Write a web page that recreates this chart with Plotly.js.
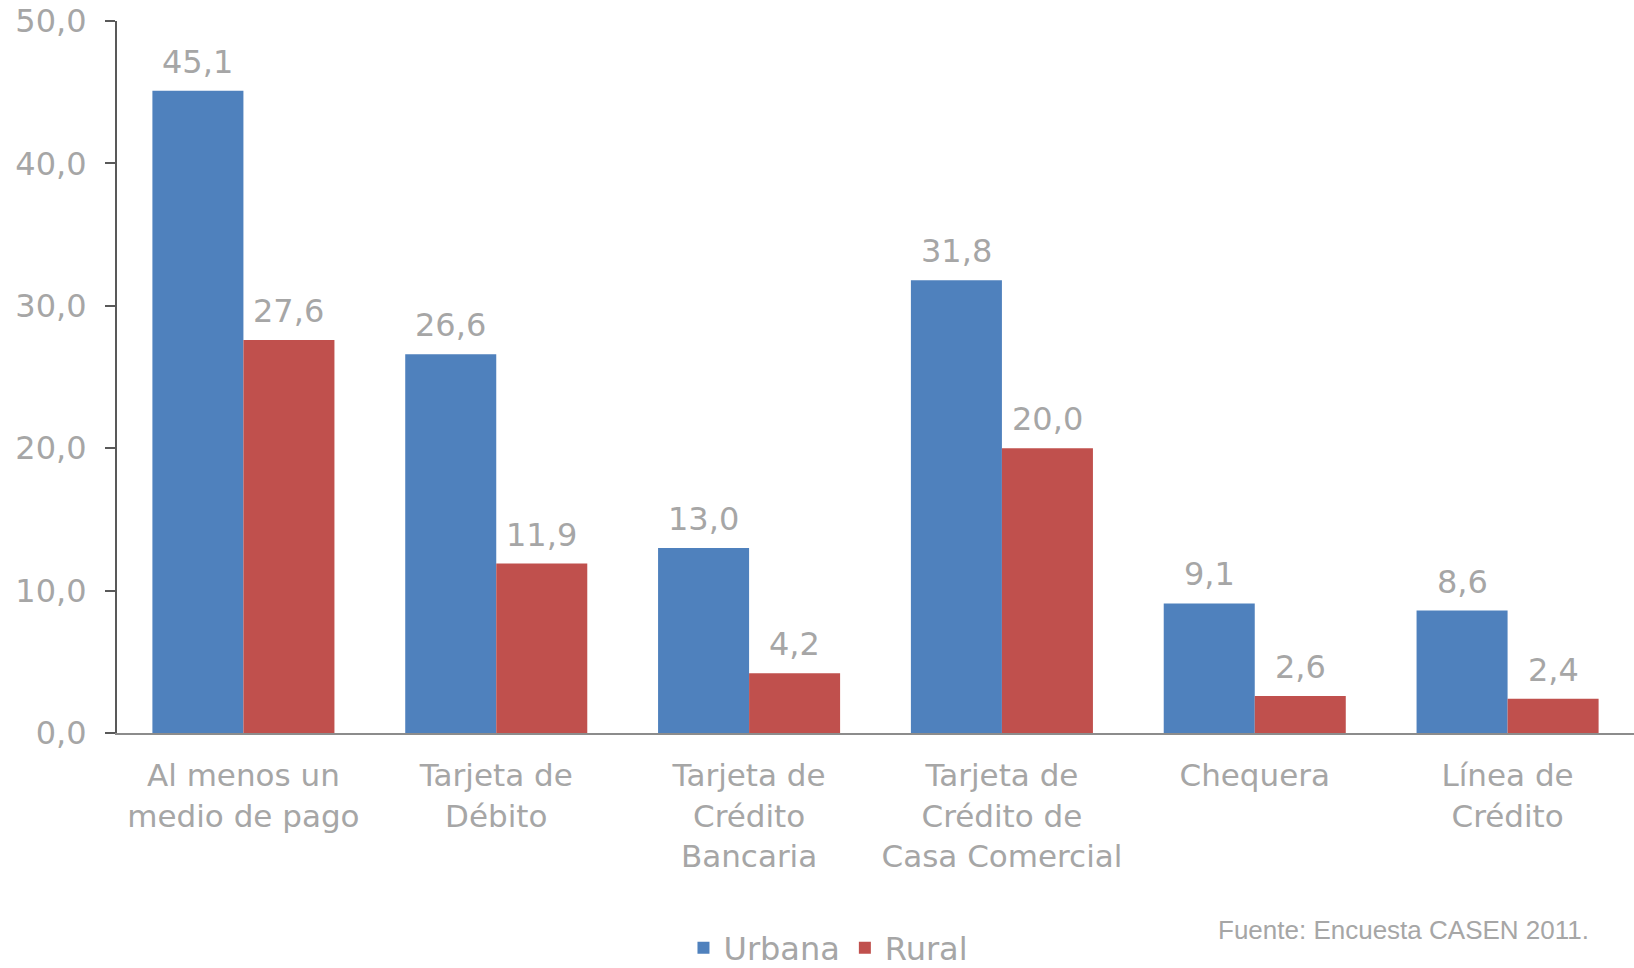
<!DOCTYPE html>
<html><head><meta charset="utf-8">
<script src="https://cdn.plot.ly/plotly-3.0.1.min.js"></script>
<style>html,body{margin:0;padding:0;background:#fff;}#chart{width:1634px;height:968px;}</style>
</head><body><div id="chart"></div>
<script>
const categories = ["Al menos un<br>medio de pago", "Tarjeta de<br>Débito", "Tarjeta de<br>Crédito<br>Bancaria", "Tarjeta de<br>Crédito de<br>Casa Comercial", "Chequera", "Línea de<br>Crédito"];
const urbana = [45.1, 26.6, 13.0, 31.8, 9.1, 8.6];
const rural = [27.6, 11.9, 4.2, 20.0, 2.6, 2.4];
const seriesNames = ["Urbana", "Rural"];
const sourceNote = "Fuente: Encuesta CASEN 2011.";

const labelFont = {family: "Verdana, 'DejaVu Sans', sans-serif", size: 32, color: "#A6A6A6"};
const traces = [
  {type: "bar", name: seriesNames[0], x: categories, y: urbana, marker: {color: "#4F81BD"}},
  {type: "bar", name: seriesNames[1], x: categories, y: rural, marker: {color: "#C0504D"}}
];
const fmt = v => v.toFixed(1).replace(".", ",");
const valueLabels = [];
[urbana, rural].forEach((vals, s) => {
  vals.forEach((v, i) => {
    valueLabels.push({xref: "x", yref: "y", x: i + (s === 0 ? -0.18 : 0.18), y: v, yanchor: "bottom", yshift: 8,
      showarrow: false, text: fmt(v), font: labelFont});
  });
});
const layout = {
  width: 1634, height: 968,
  margin: {l: 117, r: 0, t: 21, b: 235, autoexpand: false},
  separators: ",.",
  barmode: "group", bargap: 0.28, bargroupgap: 0,
  paper_bgcolor: "#fff", plot_bgcolor: "#fff",
  font: labelFont,
  xaxis: {showline: true, linecolor: "#8C8C8C", linewidth: 2, ticks: "", tickfont: Object.assign({}, labelFont, {size: 31}), ticklabelstandoff: 14, automargin: false},
  yaxis: {range: [0, 50], dtick: 10, tickformat: ".1f", showgrid: false, zeroline: false, automargin: false,
          showline: true, linecolor: "#595959", linewidth: 2, ticks: "outside", ticklen: 10, tickcolor: "#595959", tickwidth: 2,
          tickfont: labelFont, ticklabelstandoff: 12},
  showlegend: true,
  legend: {orientation: "h", xref: "paper", yref: "paper", x: 0.469, xanchor: "center", y: -0.302, yanchor: "middle",
           font: labelFont, traceorder: "normal"},
  annotations: valueLabels.concat([{xref: "paper", yref: "paper", x: 0.9717, xanchor: "right", y: -0.277, yanchor: "middle", showarrow: false,
    text: sourceNote, font: {family: "'Liberation Sans Narrow', 'Arial Narrow', 'Liberation Sans', sans-serif", size: 26, color: "#A6A6A6"}}])
};
Plotly.newPlot("chart", traces, layout, {displayModeBar: false, staticPlot: true});
</script></body></html>
